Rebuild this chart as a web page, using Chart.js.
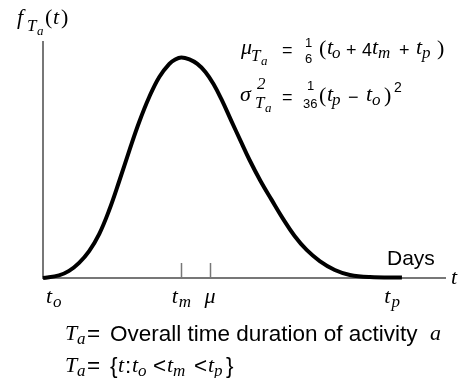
<!DOCTYPE html>
<html>
<head>
<meta charset="utf-8">
<script src="https://cdn.jsdelivr.net/npm/chart.js@4"></script>
<style>
  body { margin: 0; background: #fff; }
  canvas { display: block; }
</style>
</head>
<body>
<canvas id="myChart1" width="458" height="378"></canvas>
<script>
// curve: days from t_o (0) to t_p (20), density scaled to the axis height
var days    = [0, 0.89, 1.45, 2.01, 2.57, 3.13, 3.69, 4.25, 4.80, 5.36, 5.92, 6.48, 7.04, 7.37, 7.71,
               8.16, 8.60, 9.05, 9.50, 9.94, 10.50, 11.01, 11.51, 12.12, 12.74, 13.35, 14.02, 14.69, 15.42, 16.26, 17.10, 18.21, 20];
var density = [0, 0.011, 0.030, 0.064, 0.114, 0.186, 0.288, 0.411, 0.538, 0.661, 0.767, 0.852, 0.907, 0.926, 0.934,
               0.926, 0.907, 0.873, 0.822, 0.758, 0.665, 0.581, 0.500, 0.411, 0.331, 0.254, 0.178, 0.119, 0.072, 0.034, 0.013, 0.004, 0.002];

// t_o, t_m, mu, t_p on the day axis
var tickDays   = [0, 7.71, 9.33, 20];
var tickLabels = [['t', 'o'], ['t', 'm'], ['\u03bc', ''], ['t', 'p']];
var markDays   = [7.71, 9.33];   // little upright marks at t_m and mu

var MATH = '"Liberation Serif", "DejaVu Serif", serif';
var SANS = '"Liberation Sans", Arial, sans-serif';
var I  = 'italic 22px ' + MATH;
var IS = 'italic 17px ' + MATH;
var IT = 'italic 13px ' + MATH;
var R  = '22px ' + MATH;
var N  = '18px ' + SANS;
var NB = '22.5px ' + SANS;
var NS = '13px ' + SANS;

function put(ctx, text, font, x, y) {
    ctx.font = font;
    ctx.fillText(text, x, y);
    return x + ctx.measureText(text).width;
}

var annotations = {
    id: 'annotations',
    afterDatasetsDraw: function (chart) {
        var ctx = chart.ctx;
        var xs = chart.scales.x, ys = chart.scales.y;
        var y0 = ys.getPixelForValue(0);
        ctx.save();
        ctx.fillStyle = '#000';
        ctx.textBaseline = 'alphabetic';

        // marks at t_m and mu
        ctx.strokeStyle = '#777';
        ctx.lineWidth = 1.5;
        markDays.forEach(function (d) {
            var px = Math.round(xs.getPixelForValue(d)) + 0.5;
            ctx.beginPath();
            ctx.moveTo(px, y0);
            ctx.lineTo(px, y0 - 15);
            ctx.stroke();
        });

        // tick labels under the axis
        tickDays.forEach(function (d, i) {
            var lab = tickLabels[i];
            ctx.font = I;
            var w1 = ctx.measureText(lab[0]).width;
            ctx.font = IS;
            var w = w1 + 1 + ctx.measureText(lab[1]).width;
            var px = xs.getPixelForValue(d);
            var x = px - w / 2;
            if (i === 0) x = px + 3;
            if (i === tickDays.length - 1) x = px - w - 2;
            put(ctx, lab[0], I, x, y0 + 25);
            put(ctx, lab[1], IS, x + w1 + 1, y0 + 29);
        });

        // axis names
        put(ctx, 'Days', '21px ' + SANS, 387, 265);
        put(ctx, 't', I, 451, 284);
        put(ctx, 'f', I, 17, 24);
        put(ctx, 'T', IS, 27, 31);
        put(ctx, 'a', IT, 37, 35);
        put(ctx, '(', R, 45, 24);
        put(ctx, 't', I, 53, 24);
        put(ctx, ')', R, 61, 24);

        // mean
        put(ctx, '\u03bc', I, 241, 54);
        put(ctx, 'T', IS, 251, 61);
        put(ctx, 'a', IT, 261, 65);
        put(ctx, '=', N, 282, 56);
        put(ctx, '1', NS, 305, 47);
        put(ctx, '6', NS, 305, 63);
        put(ctx, '(', R, 319, 55);
        put(ctx, 't', I, 327, 54);
        put(ctx, 'o', IS, 332, 58);
        put(ctx, '+', N, 346, 56);
        put(ctx, '4', N, 362, 56);
        put(ctx, 't', I, 372, 54);
        put(ctx, 'm', IS, 378, 58);
        put(ctx, '+', N, 399, 56);
        put(ctx, 't', I, 416, 54);
        put(ctx, 'p', IS, 422, 58);
        put(ctx, ')', R, 437, 55);

        // variance
        put(ctx, '\u03c3', I, 240, 101);
        put(ctx, '2', IS, 257, 89);
        put(ctx, 'T', IS, 255, 108);
        put(ctx, 'a', IT, 265, 112);
        put(ctx, '=', N, 282, 103);
        put(ctx, '1', NS, 307, 90);
        put(ctx, '36', NS, 303, 108);
        put(ctx, '(', R, 319, 102);
        put(ctx, 't', I, 327, 101);
        put(ctx, 'p', IS, 332, 105);
        put(ctx, '\u2212', N, 348, 103);
        put(ctx, 't', I, 366, 101);
        put(ctx, 'o', IS, 372, 105);
        put(ctx, ')', R, 384, 102);
        put(ctx, '2', '14px ' + SANS, 394, 92);

        // definitions below the chart
        put(ctx, 'T', I, 65, 340);
        put(ctx, 'a', IS, 77, 344);
        put(ctx, '=', NB, 87, 341);
        put(ctx, 'Overall time duration of activity', NB, 110, 341);
        put(ctx, 'a', I, 430, 340);

        put(ctx, 'T', I, 65, 372);
        put(ctx, 'a', IS, 77, 376);
        put(ctx, '=', NB, 87, 373);
        put(ctx, '{', NB, 110, 373);
        put(ctx, 't', I, 118, 372);
        put(ctx, ':', NB, 125, 373);
        put(ctx, 't', I, 132, 372);
        put(ctx, 'o', IS, 138, 376);
        put(ctx, '<', NB, 153, 373);
        put(ctx, 't', I, 167, 372);
        put(ctx, 'm', IS, 173, 376);
        put(ctx, '<', NB, 194, 373);
        put(ctx, 't', I, 208, 372);
        put(ctx, 'p', IS, 214, 376);
        put(ctx, '}', NB, 226, 373);
        ctx.restore();
    }
};

var ctx = document.getElementById('myChart1').getContext('2d');

var myChart = new Chart(ctx, {
    type: 'line',
    data: {
        datasets: [{
            data: days.map(function (d, i) { return { x: d, y: density[i] }; }),
            borderColor: '#000',
            borderWidth: 4,
            pointRadius: 0,
            fill: false,
            tension: 0.4,
            clip: false
        }]
    },
    options: {
        responsive: false,
        animation: false,
        layout: { padding: { left: 43, top: 42, right: 13, bottom: 100 } },
        scales: {
            x: {
                type: 'linear',
                min: 0,
                max: 22.4,
                grid: { display: false, drawTicks: false },
                ticks: { display: false },
                border: { display: true, color: '#777', width: 2 }
            },
            y: {
                min: 0,
                max: 1,
                grid: { display: false, drawTicks: false },
                ticks: { display: false },
                border: { display: true, color: '#777', width: 2 }
            }
        },
        plugins: {
            legend: { display: false },
            tooltip: { enabled: false }
        }
    },
    plugins: [annotations]
});
</script>
</body>
</html>
